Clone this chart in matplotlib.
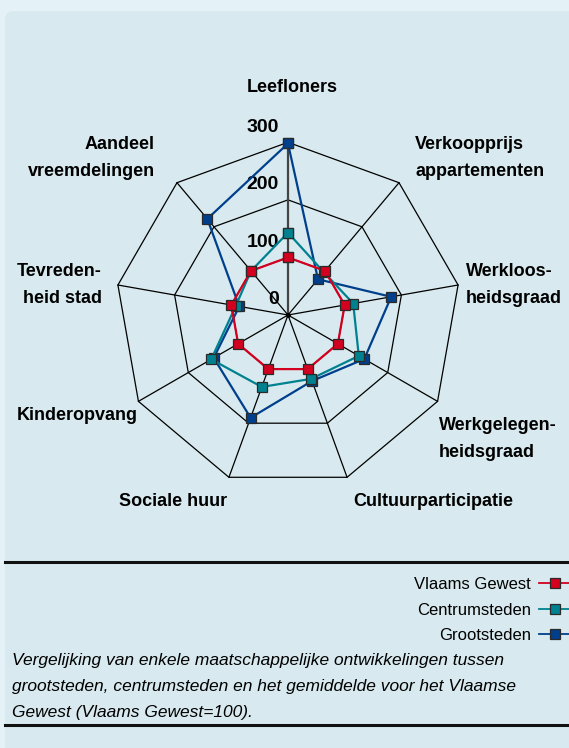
import matplotlib
matplotlib.use("Agg")
import matplotlib.pyplot as plt
from matplotlib.patches import FancyBboxPatch
from matplotlib.lines import Line2D
import numpy as np

# data (Vlaams Gewest = 100)
categories = ['Leefloners', 'Verkoopprijs\nappartementen', 'Werkloos-\nheidsgraad',
              'Werkgelegen-\nheidsgraad', 'Cultuurparticipatie', 'Sociale huur',
              'Kinderopvang', 'Tevreden-\nheid stad', 'Aandeel\nvreemdelingen']
vlaams_gewest = [100, 100, 100, 100, 100, 100, 100, 100, 100]
centrumsteden = [143, 97, 115, 142, 118, 133, 154, 92, 100]
grootsteden = [298, 81, 182, 153, 122, 190, 149, 86, 218]
ticks = [0, 100, 200, 300]
series_names = ['Vlaams Gewest', 'Centrumsteden', 'Grootsteden']

caption = ("Vergelijking van enkele maatschappelijke ontwikkelingen tussen\n"
           "grootsteden, centrumsteden en het gemiddelde voor het Vlaamse\n"
           "Gewest (Vlaams Gewest=100).")

red = '#d4001f'
teal = '#00818f'
blue = '#003f8c'
panel = '#d8eaef'
outer = '#e4f1f7'

bold_font = ['Liberation Sans', 'DejaVu Sans']
plain_font = ['Liberation Sans', 'DejaVu Sans']

W, H = 569, 748
cx, cy = 288, 315          # centre of the radar in pixels
scale = 172.7 / 300        # pixels per unit

fig = plt.figure(figsize=(W / 100, H / 100), dpi=100)
fig.patch.set_facecolor(outer)
fig.patches.append(FancyBboxPatch((0.05, -0.3), 6.0, 7.67,
                                  boxstyle='round,pad=0,rounding_size=0.09',
                                  transform=fig.dpi_scale_trans, facecolor=panel,
                                  edgecolor='none', zorder=0))

ax = fig.add_axes([0, 0, 1, 1], zorder=2)
ax.set_xlim(-cx / scale, (W - cx) / scale)
ax.set_ylim(-(H - cy) / scale, cy / scale)
ax.set_facecolor('none')
ax.axis('off')

n = len(categories)
angles = np.pi / 2 - 2 * np.pi * np.arange(n) / n

# grid polygons and spokes
for r in ticks[1:]:
    ax.plot(np.append(r * np.cos(angles), r * np.cos(angles[0])),
            np.append(r * np.sin(angles), r * np.sin(angles[0])),
            color='black', lw=0.9, zorder=1)
for i, a in enumerate(angles):
    if i == 0:
        ax.plot([0, 300 * np.cos(a)], [0, 300 * np.sin(a)], color='#444444', lw=1.6, zorder=1)
    else:
        ax.plot([0, 300 * np.cos(a)], [0, 300 * np.sin(a)], color='black', lw=0.9, zorder=1)
ax.plot([0], [0], 'o', color='black', ms=2.5, zorder=2)

for t in ticks:
    ax.text(-9 / scale, t + 15 / scale, str(t), ha='right', va='center',
            fontsize=14, fontweight='bold', family=bold_font, zorder=3)

# series, bottom to top
handles = {}
for name, vals, col, z in [('Grootsteden', grootsteden, blue, 4),
                           ('Centrumsteden', centrumsteden, teal, 5),
                           ('Vlaams Gewest', vlaams_gewest, red, 6)]:
    v = np.array(vals + vals[:1], dtype=float)
    a = np.append(angles, angles[0])
    ln, = ax.plot(v * np.cos(a), v * np.sin(a), color=col, lw=1.6, marker='s',
                  ms=7, markerfacecolor=col, markeredgecolor='#2a2a2a',
                  markeredgewidth=0.9, zorder=z)
    handles[name] = ln

# category labels (pixel positions)
label_pos = [(292, 88, 'center'), (415, 158, 'left'), (466, 285, 'left'),
             (439, 439, 'left'), (433, 502, 'center'), (173, 502, 'center'),
             (138, 415, 'right'), (102, 285, 'right'), (155, 158, 'right')]
for lab, (x, y, ha) in zip(categories, label_pos):
    fig.text(x / W, 1 - y / H, lab, ha=ha, va='center', fontsize=13,
             fontweight='bold', family=bold_font, linespacing=1.72, multialignment=ha,
             zorder=3)

# horizontal rules
for y in [562, 725]:
    fig.add_artist(Line2D([5 / W, 1], [1 - y / H, 1 - y / H], color='#111111', lw=2.2))

# legend
leg = fig.legend([handles[s] for s in series_names], series_names,
                 loc='upper right', bbox_to_anchor=(571 / W, 1 - 577 / H),
                 markerfirst=False, frameon=False, handlelength=1.9,
                 handletextpad=0.5, labelspacing=0.64, borderpad=0, borderaxespad=0,
                 prop={'family': plain_font, 'size': 12})
for h in leg.legend_handles:
    h.set_linewidth(1.3)

fig.text(12 / W, 1 - 653 / H, caption, ha='left', va='top', fontsize=12.5,
         style='italic', family=plain_font, linespacing=1.9)

fig.savefig('out.png', dpi=100, facecolor=fig.get_facecolor())
